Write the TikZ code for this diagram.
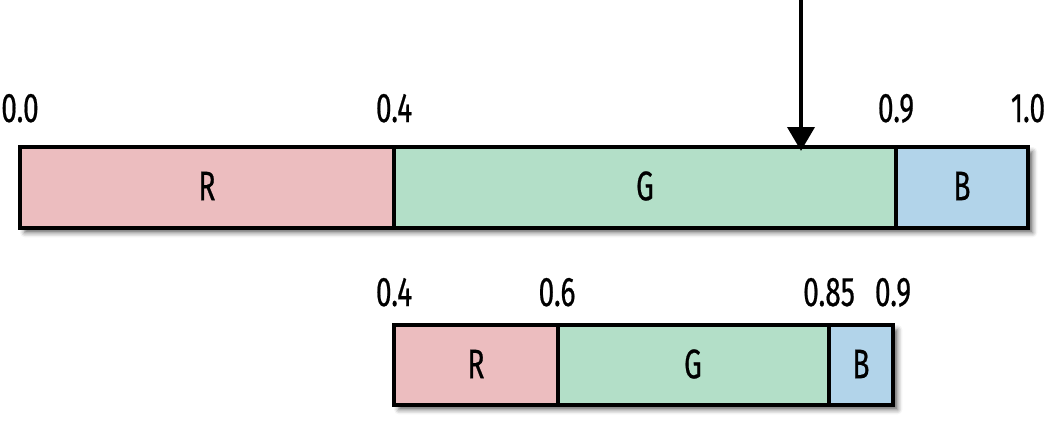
\documentclass[tikz,border=0pt]{standalone}
\usepackage{fontspec}
\newfontfamily\condfont{Fira Sans}[FakeStretch=0.68,FakeBold=0.5]
\usetikzlibrary{arrows.meta,shadows.blur}
\definecolor{rpink}{RGB}{236,189,191}
\definecolor{ggreen}{RGB}{179,223,200}
\definecolor{bblue}{RGB}{178,212,234}
\tikzset{
  seg/.style={draw=black, line width=3.4pt},
  letter/.style={inner sep=0pt, font=\condfont\fontsize{31}{31}\selectfont},
  tick/.style={anchor=base, inner sep=0pt, font=\condfont\fontsize{31}{31}\selectfont},
  barshadow/.style={blur shadow={shadow xshift=3.5pt, shadow yshift=-3.5pt, shadow blur radius=3.5pt, shadow opacity=60}},
}
\begin{document}
\begin{tikzpicture}[x=0.75pt,y=0.75pt,yscale=-1,xscale=1]
\useasboundingbox (0,0) rectangle (1059,435);

% whole interval
\path[barshadow] (20,147) rectangle (1028,228);
\draw[seg, fill=rpink] (20,147) rectangle (394,228);
\draw[seg, fill=ggreen] (394,147) rectangle (896,228);
\draw[seg, fill=bblue] (896,147) rectangle (1028,228);
\node[letter] (r1) at (207,186) {R};
\node[letter] (g1) at (645,186) {G};
\node[letter] (b1) at (962,186) {B};

% Text Node
\node[tick] (t00) at (20,122) {0.0};
\node[tick] (t04) at (394,122) {0.4};
\node[tick] (t09) at (896,122) {0.9};
\node[tick] (t10) at (1028,122) {1.0};

% picked value
\coordinate (src) at (801,0);
\coordinate (pick) at (801,151);
\draw[line width=3.6pt, -{Triangle[length=18pt,width=20pt,fill=black]}] (src) -- (pick);

% sub interval
\path[barshadow] (394,325) rectangle (893,405);
\draw[seg, fill=rpink] (394,325) rectangle (558,405);
\draw[seg, fill=ggreen] (558,325) rectangle (829,405);
\draw[seg, fill=bblue] (829,325) rectangle (893,405);
\node[letter] (r2) at (476,364) {R};
\node[letter] (g2) at (693,364) {G};
\node[letter] (b2) at (861,364) {B};

% Text Node
\node[tick] (s04) at (394,306) {0.4};
\node[tick] (s06) at (557,306) {0.6};
\node[tick] (s085) at (829,306) {0.85};
\node[tick] (s09) at (893,306) {0.9};
\end{tikzpicture}
\end{document}
